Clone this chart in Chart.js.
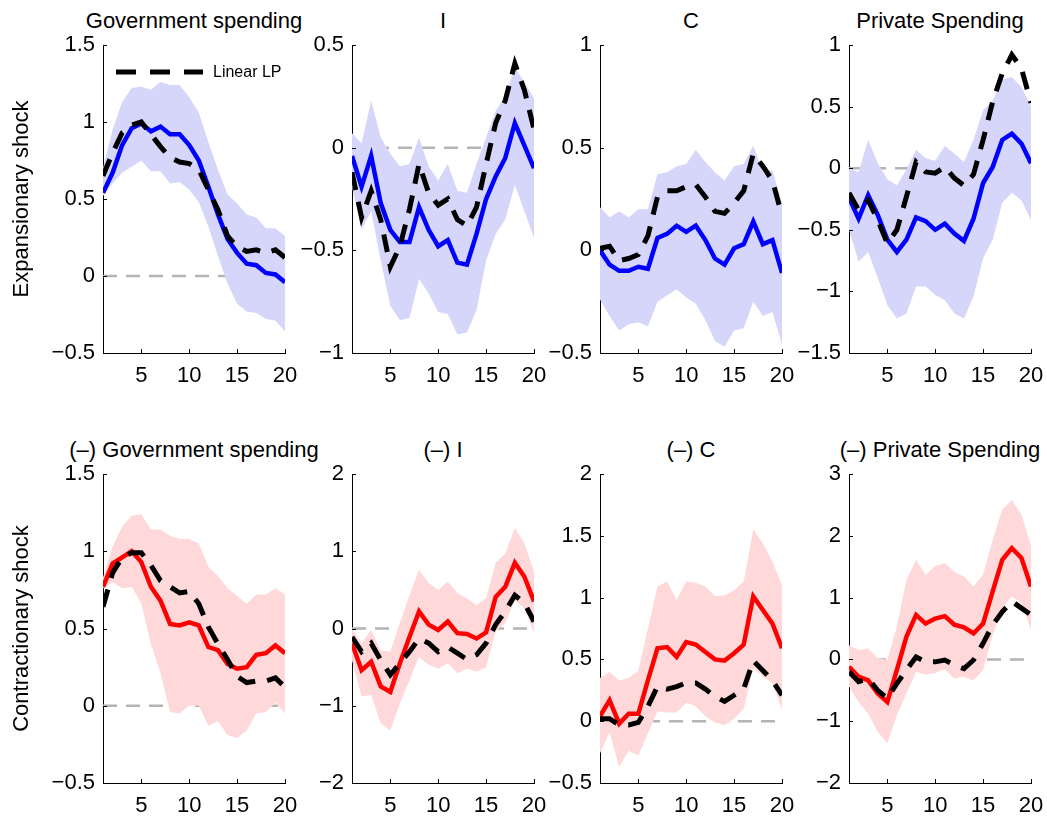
<!DOCTYPE html>
<html>
<head>
<meta charset="utf-8">
<script src="https://cdn.jsdelivr.net/npm/chart.js@4.4.1/dist/chart.umd.min.js"></script>
<style>
  html, body { margin: 0; padding: 0; background: #fff; }
  #wrap { position: relative; width: 1047px; height: 818px; overflow: hidden; }
  #wrap canvas { position: absolute; }
  .ptitle { position: absolute; white-space: nowrap; transform: translateX(-50%);
            font: 22px "Liberation Sans", Arial, Helvetica, sans-serif; line-height: 26px; color: #000; }
</style>
</head>
<body>
<div id="wrap"></div>
<script>
// ---------------- data ----------------
const horizons = [1,2,3,4,5,6,7,8,9,10,11,12,13,14,15,16,17,18,19,20];
const xTicks = [5, 10, 15, 20];
const legendLabel = 'Linear LP';
const rowLabels = ['Expansionary shock', 'Contractionary shock'];
const titles = ['Government spending', 'I', 'C', 'Private Spending',
                '(–) Government spending', '(–) I', '(–) C', '(–) Private Spending'];

// Expansionary: Government spending
const govExpResp  = [0.54,0.67,0.85,0.96,0.99,0.94,0.97,0.92,0.92,0.85,0.75,0.58,0.40,0.24,0.15,0.08,0.07,0.02,0.01,-0.04];
const govExpLin   = [0.65,0.80,0.93,0.98,1.00,0.92,0.84,0.77,0.74,0.73,0.69,0.56,0.43,0.26,0.19,0.16,0.17,0.15,0.17,0.12];
const govExpUpper = [0.70,0.95,1.13,1.22,1.23,1.21,1.26,1.24,1.24,1.16,1.06,0.87,0.69,0.53,0.47,0.40,0.38,0.31,0.31,0.26];
const govExpLower = [0.52,0.60,0.67,0.71,0.75,0.68,0.68,0.60,0.61,0.56,0.48,0.32,0.13,-0.05,-0.18,-0.23,-0.24,-0.28,-0.29,-0.36];
// Expansionary: I
const invExpResp  = [-0.04,-0.19,-0.04,-0.27,-0.40,-0.46,-0.46,-0.29,-0.40,-0.48,-0.45,-0.56,-0.57,-0.42,-0.25,-0.14,-0.05,0.12,0.01,-0.10];
const invExpLin   = [-0.12,-0.34,-0.21,-0.35,-0.58,-0.48,-0.30,-0.08,-0.22,-0.28,-0.25,-0.35,-0.38,-0.29,-0.08,0.12,0.23,0.41,0.28,0.09];
const invExpUpper = [0.07,0.02,0.23,0.05,-0.03,-0.09,-0.08,0.05,-0.09,-0.16,-0.08,-0.21,-0.22,-0.08,0.05,0.18,0.25,0.39,0.32,0.24];
const invExpLower = [-0.19,-0.40,-0.31,-0.55,-0.77,-0.84,-0.83,-0.64,-0.71,-0.80,-0.81,-0.91,-0.90,-0.79,-0.55,-0.42,-0.35,-0.18,-0.31,-0.44];
// Expansionary: C
const conExpResp  = [0.00,-0.07,-0.10,-0.10,-0.08,-0.09,0.06,0.08,0.12,0.09,0.12,0.05,-0.04,-0.07,0.01,0.03,0.14,0.03,0.05,-0.11];
const conExpLin   = [0.01,0.02,-0.05,-0.04,-0.02,0.07,0.26,0.29,0.29,0.31,0.32,0.26,0.19,0.18,0.23,0.29,0.47,0.41,0.34,0.17];
const conExpUpper = [0.21,0.16,0.19,0.16,0.20,0.20,0.37,0.38,0.41,0.42,0.49,0.43,0.38,0.34,0.41,0.42,0.51,0.38,0.39,0.23];
const conExpLower = [-0.24,-0.32,-0.39,-0.36,-0.35,-0.37,-0.25,-0.22,-0.19,-0.23,-0.26,-0.34,-0.44,-0.47,-0.39,-0.38,-0.25,-0.32,-0.30,-0.46];
// Expansionary: Private spending
const priExpResp  = [-0.24,-0.41,-0.22,-0.38,-0.58,-0.68,-0.58,-0.40,-0.43,-0.50,-0.45,-0.53,-0.59,-0.41,-0.12,0.01,0.23,0.28,0.20,0.04];
const priExpLin   = [-0.20,-0.34,-0.26,-0.42,-0.61,-0.50,-0.23,0.05,-0.03,-0.04,0.01,-0.08,-0.14,-0.05,0.23,0.54,0.77,0.92,0.81,0.53];
const priExpUpper = [0.00,-0.03,0.23,0.04,-0.09,-0.14,-0.01,0.15,0.08,0.06,0.18,0.12,0.05,0.23,0.47,0.55,0.72,0.74,0.66,0.50];
const priExpLower = [-0.50,-0.76,-0.68,-0.89,-1.11,-1.22,-1.18,-0.96,-0.96,-1.03,-1.07,-1.18,-1.22,-1.04,-0.73,-0.58,-0.28,-0.20,-0.26,-0.42];
// Contractionary: Government spending
const govConResp  = [0.77,0.92,0.96,1.00,0.93,0.77,0.68,0.53,0.52,0.54,0.52,0.38,0.36,0.27,0.24,0.25,0.33,0.34,0.39,0.34];
const govConLin   = [0.64,0.86,0.96,0.99,0.99,0.91,0.81,0.77,0.73,0.74,0.66,0.51,0.40,0.30,0.19,0.15,0.16,0.16,0.18,0.12];
const govConUpper = [0.83,1.03,1.16,1.23,1.24,1.14,1.14,1.10,1.08,1.08,1.05,0.90,0.84,0.76,0.71,0.66,0.72,0.72,0.76,0.72];
const govConLower = [0.76,0.80,0.76,0.77,0.66,0.40,0.21,-0.04,-0.05,0.00,0.00,-0.13,-0.10,-0.19,-0.21,-0.16,-0.05,-0.04,0.02,-0.05];
// Contractionary: I
const invConResp  = [-0.19,-0.54,-0.43,-0.75,-0.82,-0.45,-0.11,0.22,0.05,-0.02,0.09,-0.06,-0.07,-0.13,-0.05,0.41,0.54,0.85,0.67,0.35];
const invConLin   = [-0.11,-0.30,-0.19,-0.41,-0.60,-0.45,-0.30,-0.13,-0.19,-0.30,-0.24,-0.32,-0.40,-0.34,-0.19,0.05,0.22,0.43,0.33,0.09];
const invConUpper = [0.00,-0.19,-0.02,-0.28,-0.30,0.07,0.43,0.76,0.59,0.50,0.61,0.46,0.39,0.30,0.39,0.85,0.97,1.30,1.10,0.74];
const invConLower = [-0.41,-0.88,-0.86,-1.23,-1.32,-0.97,-0.67,-0.37,-0.47,-0.52,-0.45,-0.58,-0.52,-0.56,-0.50,-0.04,0.07,0.37,0.26,-0.06];
// Contractionary: C
const conConResp  = [0.04,0.17,-0.02,0.06,0.06,0.33,0.59,0.60,0.52,0.64,0.62,0.56,0.50,0.49,0.55,0.62,1.01,0.90,0.79,0.59];
const conConLin   = [0.02,0.02,-0.03,-0.03,-0.01,0.12,0.28,0.26,0.28,0.31,0.31,0.26,0.20,0.16,0.21,0.26,0.49,0.41,0.33,0.21];
const conConUpper = [0.35,0.40,0.33,0.35,0.41,0.75,1.09,1.13,0.98,1.13,1.12,1.09,1.01,1.02,1.06,1.13,1.55,1.44,1.29,1.10];
const conConLower = [-0.26,-0.09,-0.37,-0.24,-0.28,-0.10,0.08,0.07,0.07,0.15,0.12,0.04,-0.01,-0.03,0.02,0.10,0.43,0.36,0.31,0.09];
// Contractionary: Private spending
const priConResp  = [-0.12,-0.28,-0.34,-0.55,-0.69,-0.17,0.37,0.72,0.58,0.66,0.70,0.56,0.52,0.42,0.58,1.10,1.61,1.80,1.64,1.18];
const priConLin   = [-0.20,-0.36,-0.31,-0.50,-0.63,-0.39,-0.17,0.04,-0.04,-0.04,-0.01,-0.09,-0.15,-0.01,0.26,0.56,0.77,0.94,0.83,0.72];
const priConUpper = [0.23,0.15,0.18,0.02,-0.01,0.53,1.29,1.61,1.37,1.51,1.56,1.42,1.34,1.18,1.37,1.94,2.42,2.58,2.34,1.85];
const priConLower = [-0.44,-0.69,-0.88,-1.17,-1.36,-0.90,-0.55,-0.20,-0.25,-0.22,-0.16,-0.31,-0.28,-0.34,-0.17,0.39,0.83,1.02,0.91,0.48];

// y tick labels per panel
const yTicksGovExp = [-0.5, 0, 0.5, 1, 1.5];
const yTicksInvExp = [-1, -0.5, 0, 0.5];
const yTicksConExp = [-0.5, 0, 0.5, 1];
const yTicksPriExp = [-1.5, -1, -0.5, 0, 0.5, 1];
const yTicksGovCon = [-0.5, 0, 0.5, 1, 1.5];
const yTicksInvCon = [-2, -1, 0, 1, 2];
const yTicksConCon = [-0.5, 0, 0.5, 1, 1.5, 2];
const yTicksPriCon = [-2, -1, 0, 1, 2, 3];
const zeroLineX = [1, 20];
const zeroLineY = [0, 0];

// ---------------- layout / style ----------------
const FONT = '"Liberation Sans", Arial, Helvetica, sans-serif';
const colLeft = [103, 352, 600, 849];
const plotW = 182;
const rowTop = [45, 474];
const rowH = [308, 309];
const TITLE_H = 45, XAXIS_H = 35, RIGHT_M = 32;

const styles = [
  { line: '#0000ff', band: '#d6d6fb' },
  { line: '#ff0000', band: '#ffd9d9' }
];

const panels = [
  { resp: govExpResp, lin: govExpLin, up: govExpUpper, lo: govExpLower, yt: yTicksGovExp },
  { resp: invExpResp, lin: invExpLin, up: invExpUpper, lo: invExpLower, yt: yTicksInvExp },
  { resp: conExpResp, lin: conExpLin, up: conExpUpper, lo: conExpLower, yt: yTicksConExp },
  { resp: priExpResp, lin: priExpLin, up: priExpUpper, lo: priExpLower, yt: yTicksPriExp },
  { resp: govConResp, lin: govConLin, up: govConUpper, lo: govConLower, yt: yTicksGovCon },
  { resp: invConResp, lin: invConLin, up: invConUpper, lo: invConLower, yt: yTicksInvCon },
  { resp: conConResp, lin: conConLin, up: conConUpper, lo: conConLower, yt: yTicksConCon },
  { resp: priConResp, lin: priConLin, up: priConUpper, lo: priConLower, yt: yTicksPriCon }
];

const inwardTicks = {
  id: 'inwardTicks',
  afterDraw(chart) {
    const { ctx, chartArea: a, scales: { x, y } } = chart;
    ctx.save();
    ctx.strokeStyle = '#000';
    ctx.lineWidth = 1;
    ctx.beginPath();
    x.ticks.forEach(t => {
      const px = Math.round(x.getPixelForValue(t.value)) + 0.5;
      ctx.moveTo(px, a.bottom);
      ctx.lineTo(px, a.bottom - 4);
    });
    y.ticks.forEach(t => {
      const py = Math.round(y.getPixelForValue(t.value)) + 0.5;
      ctx.moveTo(a.left, py);
      ctx.lineTo(a.left + 4, py);
    });
    ctx.stroke();
    ctx.restore();
  }
};

const lpLegend = {
  id: 'lpLegend',
  afterDraw(chart, args, opts) {
    if (!opts || !opts.show) return;
    const ds = chart.data.datasets[0];
    const { ctx, chartArea: a } = chart;
    const y = a.top + 27;
    const x0 = a.left + 13, x1 = a.left + 100;
    ctx.save();
    ctx.strokeStyle = ds.borderColor;
    ctx.lineWidth = ds.borderWidth;
    ctx.setLineDash([20, 14]);
    ctx.beginPath();
    ctx.moveTo(x0, y);
    ctx.lineTo(x1, y);
    ctx.stroke();
    ctx.setLineDash([]);
    ctx.fillStyle = '#000';
    ctx.font = '16px ' + FONT;
    ctx.textBaseline = 'middle';
    ctx.textAlign = 'left';
    ctx.fillText(ds.label, a.left + 110, y + 1);
    ctx.restore();
  }
};

const fmt = v => String(v).replace('-', '\u2212');
const pts = arr => arr.map((v, i) => ({ x: horizons[i], y: v }));

const wrap = document.getElementById('wrap');
panels.forEach((p, idx) => {
  const row = Math.floor(idx / 4), col = idx % 4;
  const st = styles[row];
  const yAxisW = col === 0 ? colLeft[0] : 60;
  const left = colLeft[col] - yAxisW;
  const top = rowTop[row] - TITLE_H;
  const width = yAxisW + plotW + RIGHT_M;
  const height = TITLE_H + rowH[row] + XAXIS_H;

  const t = document.createElement('div');
  t.className = 'ptitle';
  t.textContent = titles[idx];
  t.style.left = (colLeft[col] + plotW / 2) + 'px';
  t.style.top = (rowTop[row] - 37) + 'px';
  wrap.appendChild(t);

  const cv = document.createElement('canvas');
  cv.width = width; cv.height = height;
  cv.style.left = left + 'px'; cv.style.top = top + 'px';
  cv.style.width = width + 'px'; cv.style.height = height + 'px';
  wrap.appendChild(cv);

  new Chart(cv, {
    type: 'line',
    data: {
      datasets: [
        { label: legendLabel, data: pts(p.lin), borderColor: '#000', borderWidth: 5,
          borderDash: [18, 12], pointRadius: 0, tension: 0, fill: false, borderCapStyle: 'butt' },
        { label: 'response', data: pts(p.resp), borderColor: st.line, borderWidth: 4.5,
          pointRadius: 0, tension: 0, fill: false },
        { label: 'upper', data: pts(p.up), borderColor: 'rgba(0,0,0,0)', borderWidth: 0,
          backgroundColor: st.band, pointRadius: 0, tension: 0, fill: '+1' },
        { label: 'lower', data: pts(p.lo), borderColor: 'rgba(0,0,0,0)', borderWidth: 0,
          pointRadius: 0, tension: 0, fill: false },
        { label: 'zero', data: zeroLineX.map((x, i) => ({ x, y: zeroLineY[i] })),
          borderColor: '#b4b4b4', borderWidth: 2.5, borderDash: [14, 9],
          pointRadius: 0, tension: 0, fill: false }
      ]
    },
    options: {
      responsive: false,
      animation: false,
      events: [],
      devicePixelRatio: 1,
      layout: { padding: { top: TITLE_H, right: RIGHT_M, left: 0, bottom: 0 } },
      plugins: {
        legend: { display: false },
        tooltip: { enabled: false },
        title: { display: false },
        lpLegend: { show: idx === 0 }
      },
      scales: {
        x: {
          type: 'linear', min: 1, max: 20,
          afterBuildTicks: s => { s.ticks = xTicks.map(v => ({ value: v })); },
          afterFit: s => { s.height = XAXIS_H; },
          grid: { display: false, drawTicks: false },
          border: { display: true, color: '#000', width: 1 },
          ticks: { color: '#000', padding: 10, maxRotation: 0, autoSkip: false,
                   font: { family: FONT, size: 22 }, callback: v => fmt(v) }
        },
        y: {
          type: 'linear', min: p.yt[0], max: p.yt[p.yt.length - 1],
          afterBuildTicks: s => { s.ticks = p.yt.map(v => ({ value: v })); },
          afterFit: s => { s.width = yAxisW; },
          grid: { display: false, drawTicks: false },
          border: { display: true, color: '#000', width: 1 },
          title: {
            display: col === 0, text: rowLabels[row], color: '#000',
            font: { family: FONT, size: 22 }, padding: { top: 9, bottom: 0 }
          },
          ticks: { color: '#000', padding: 8, autoSkip: false,
                   font: { family: FONT, size: 22 }, callback: v => fmt(v) }
        }
      }
    },
    plugins: [inwardTicks, lpLegend]
  });
});
</script>
</body>
</html>
